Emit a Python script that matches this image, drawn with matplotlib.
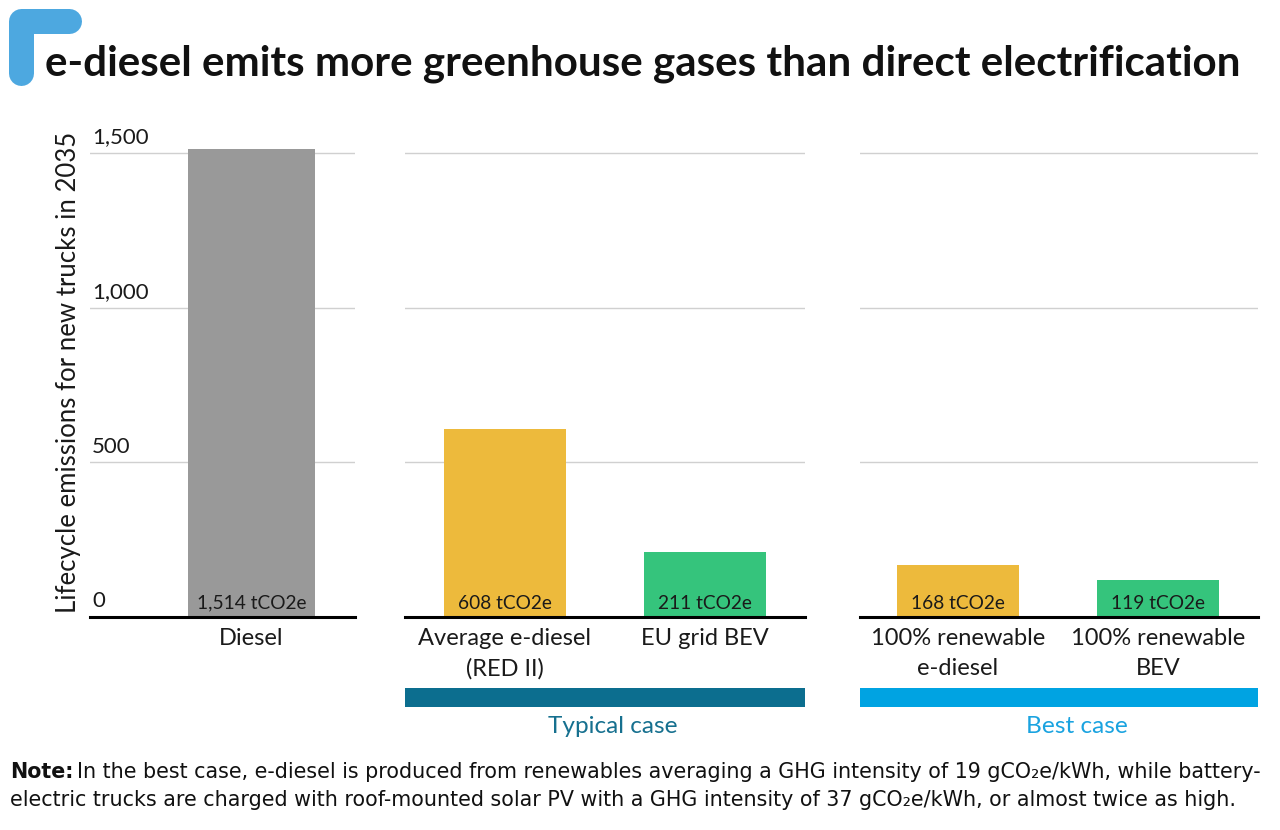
import matplotlib.pyplot as plt
import matplotlib.transforms as mtransforms
from matplotlib.patches import Rectangle
from matplotlib.lines import Line2D

# data
diesel_label = ["Diesel"]
diesel_value = [1514]
typical_labels = ["Average e-diesel\n(RED II)", "EU grid BEV"]
typical_values = [608, 211]
best_labels = ["100% renewable\ne-diesel", "100% renewable\nBEV"]
best_values = [168, 119]
y_ticks = [0, 500, 1000, 1500]

GRAY = "#999999"
YELLOW = "#EDBA3C"
GREEN = "#35C47C"
TYPICAL = "#0C6E8F"
BEST = "#00A3E2"
ICON = "#4DA8E0"

plt.rcParams['font.family'] = ['Lato', 'DejaVu Sans']

W, H = 1280, 830
fig = plt.figure(figsize=(12.8, 8.3), dpi=100)

BASE = 617
PX_PER_UNIT = 464 / 1500
YMAX = 1550


def px_axes(x0, x1):
    top = BASE - YMAX * PX_PER_UNIT
    return fig.add_axes([x0 / W, 1 - BASE / H, (x1 - x0) / W, (BASE - top) / H])


def fy(ypx):
    return 1 - ypx / H


def draw_panel(ax, labels, values, colors, xlim, width):
    ax.set_xlim(*xlim)
    ax.set_ylim(0, YMAX)
    for t in y_ticks[1:]:
        ax.axhline(t, color="#D0D0D0", lw=1, zorder=0)
    xs = list(range(len(values)))
    ax.bar(xs, values, width=width, color=colors, zorder=2, clip_on=False)
    ax.axhline(0, color="black", lw=2.2, zorder=3, clip_on=False)
    tr = mtransforms.blended_transform_factory(ax.transData, fig.transFigure)
    for x, v, lab in zip(xs, values, labels):
        ax.text(x, fy(603), f"{v:,} tCO2e", ha="center", va="center",
                fontsize=13.8, color="#1a1a1a", zorder=4, transform=tr)
        ax.text(x, fy(628), lab, ha="center", va="top", fontsize=17,
                color="#1a1a1a", linespacing=1.5, transform=tr)
    for s in ax.spines.values():
        s.set_visible(False)
    ax.set_xticks([])
    ax.set_yticks([])


ax1 = px_axes(90, 355)
draw_panel(ax1, diesel_label, diesel_value, [GRAY], (-0.8075, 0.5175), 0.635)
for t in y_ticks:
    ax1.text(0.008, t + 18, f"{t:,}", transform=ax1.get_yaxis_transform(),
             ha="left", va="bottom", fontsize=16, color="#1a1a1a")
fig.text(69 / W, fy(372), "Lifecycle emissions for new trucks in 2035",
         rotation=90, ha="center", va="center", fontsize=18.5, color="#1a1a1a")

ax2 = px_axes(405, 805)
draw_panel(ax2, typical_labels, typical_values, [YELLOW, GREEN], (-0.5, 1.5), 0.61)

ax3 = px_axes(860, 1258)
draw_panel(ax3, best_labels, best_values, [YELLOW, GREEN], (-0.49, 1.5), 0.61)

# group bands
fig.add_artist(Rectangle((405 / W, fy(707)), 400 / W, 19 / H, transform=fig.transFigure,
                         color=TYPICAL, lw=0))
fig.add_artist(Rectangle((860 / W, fy(707)), 398 / W, 19 / H, transform=fig.transFigure,
                         color=BEST, lw=0))
fig.text(613 / W, fy(726), "Typical case", ha="center", va="center", fontsize=17.6, color="#16708F")
fig.text(1077 / W, fy(726), "Best case", ha="center", va="center", fontsize=17.6, color="#1AA3E0")

# title and icon
fig.add_artist(Line2D([21 / W, 21 / W, 69 / W], [fy(73), fy(21), fy(21)], transform=fig.transFigure,
                      color=ICON, lw=18, solid_capstyle="round", solid_joinstyle="round"))
fig.text(45 / W, fy(64), "e-diesel emits more greenhouse gases than direct electrification",
         ha="left", va="center", fontsize=30.3, fontweight="bold", color="#111111")

# note
note_font = ['Liberation Sans Narrow', 'DejaVu Sans']
nb = fig.text(10 / W, fy(772), "Note:", ha="left", va="center", fontsize=14.9,
              fontweight="bold", family=note_font, color="#111111")
fig.canvas.draw()
bb = nb.get_window_extent()
fig.text(bb.x1 / W + 4 / W, fy(772),
         "In the best case, e-diesel is produced from renewables averaging a GHG intensity of 19 gCO\u2082e/kWh, while battery-",
         ha="left", va="center", fontsize=14.9, family=note_font, color="#111111")
fig.text(10 / W, fy(800),
         "electric trucks are charged with roof-mounted solar PV with a GHG intensity of 37 gCO\u2082e/kWh, or almost twice as high.",
         ha="left", va="center", fontsize=14.9, family=note_font, color="#111111")

fig.savefig("out.png", dpi=100)
